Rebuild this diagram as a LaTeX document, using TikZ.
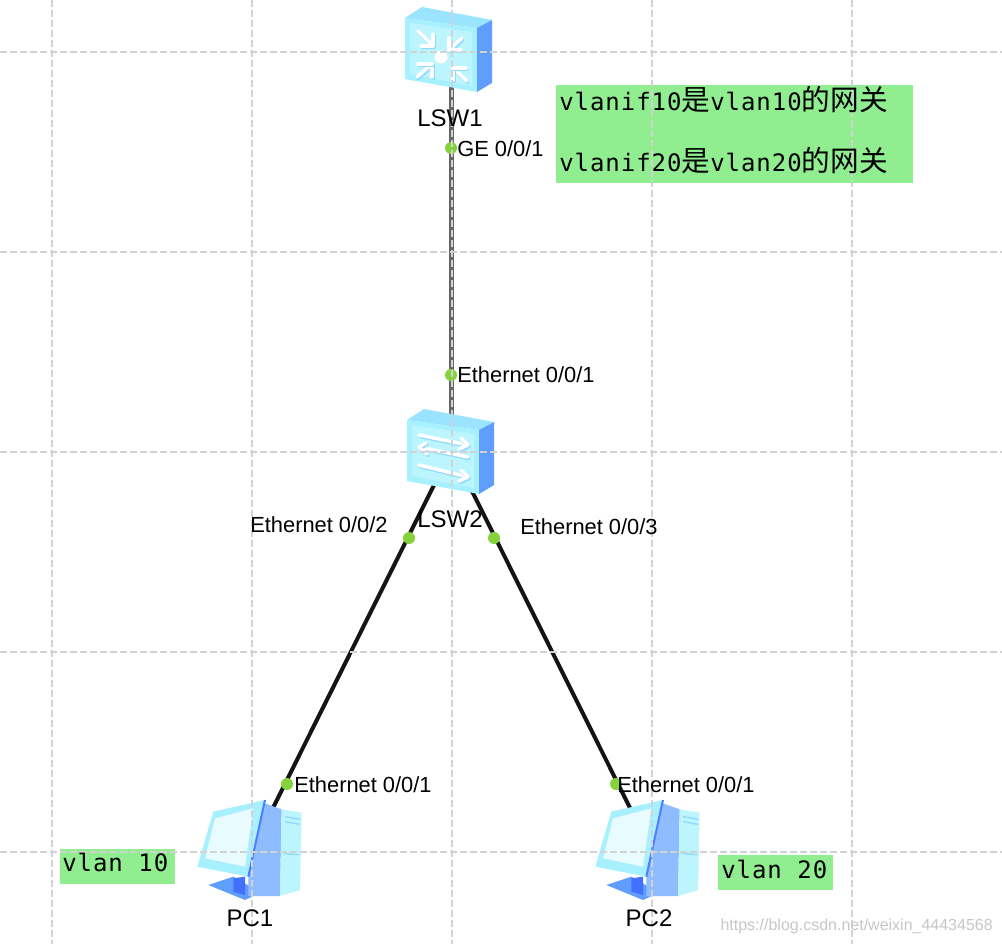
\documentclass[tikz,border=0pt]{standalone}
\usepackage{fontspec}
\setmainfont{Liberation Sans}
\newfontfamily\cjkf{Noto Sans CJK SC}
\newfontfamily\monof[LetterSpace=4]{DejaVu Sans Mono}
\definecolor{gridc}{HTML}{D2D2D2}
\definecolor{portc}{HTML}{84D23C}
\definecolor{noteg}{HTML}{90EE90}
\definecolor{iconfront}{HTML}{A6F0FF}
\definecolor{icontop}{HTML}{9BE4FF}
\definecolor{iconside}{HTML}{5F9EFF}
\definecolor{iconin}{HTML}{BDF5FF}
\definecolor{iconsh}{HTML}{8FD8FF}
\tikzset{
 gridline/.style={gridc,line width=1.15pt,dash pattern=on 5pt off 2.5pt},
 port/.style={circle,fill=portc,inner sep=0pt,minimum size=9pt},
 portlabel/.style={font=\fontsize{16.4}{16.4}\selectfont,inner sep=0pt,anchor=west,text=black},
 devlabel/.style={font=\fontsize{18}{18}\selectfont,inner sep=0pt,text=black},
 note/.style={fill=noteg,inner sep=0pt,anchor=north west},
 notetext/.style={font=\fontsize{18}{18}\selectfont\monof,inner sep=0pt,anchor=west,text=black},
 eth/.style={line width=3pt,draw=black!92},
 ge/.style={line width=4.2pt,draw=black!60},
 dev/.style={inner sep=0pt,minimum size=1pt},
 glyph/.style={white,line width=2.6pt,line cap=round,line join=round},
 glyphsh/.style={iconsh,line width=2.6pt,line cap=round,line join=round},
}
\newcommand{\cj}[1]{{\fontsize{21.5}{21.5}\selectfont\cjkf #1}}
\newcommand{\swbody}[2]{%
 \begin{scope}[shift={(#1,#2)}]
 \fill[icontop] (0,11) -- (17,0) -- (87,13) -- (72,21) -- cycle;
 \fill[iconfront] (0,11) -- (72,21) -- (72,85) -- (0,72) -- cycle;
 \fill[iconin] (5,16) -- (67,25) -- (67,79) -- (5,67) -- cycle;
 \fill[iconside] (72,21) -- (87,13) -- (87,76) -- (72,85) -- cycle;
 \end{scope}}
\newcommand{\pcicon}[2]{%
 \begin{scope}[shift={(#1,#2)},scale=1/3]
 \fill[iconside] (55,345) -- (130,320) -- (212,368) -- (165,390) -- cycle;
 \fill[iconside!70!blue] (130,325) -- (165,320) -- (165,375) -- (130,365) -- cycle;
 \fill[iconside!70!white] (225,100) -- (275,118) -- (270,378) -- (175,378) -- (175,320) -- cycle;
 \fill[iconin] (275,118) -- (335,128) -- (330,360) -- (270,378) -- cycle;
 \fill[iconfront] (22,290) -- (70,125) -- (225,90) -- (175,320) -- cycle;
 \fill[white!65!iconin] (45,265) -- (75,145) -- (190,115) -- (165,290) -- cycle;
 \draw[iconside!80!blue,line width=1.5pt] (225,90) -- (175,320);
 \draw[iconsh,line width=1pt] (285,140) -- (330,148) (285,155) -- (330,163) (280,250) -- (328,254);
 \end{scope}}
\newcommand{\zarrow}[4]{% tail, then corner
 \draw[glyphsh] (#1+1,#2+1.5) -- (#3+1,#4+1.5);
 \draw[glyph] (#1,#2) -- (#3,#4);}
\begin{document}
\begin{tikzpicture}[x=0.75pt,y=-0.75pt]
\useasboundingbox (0,0) rectangle (1002,944);
\fill[white] (0,0) rectangle (1002,944);
% note boxes
\node[note,minimum width=267.75pt,minimum height=73.5pt] (n1) at (556,85) {};
\node[note,minimum width=86.25pt,minimum height=26.25pt] (n2) at (60,849) {};
\node[note,minimum width=86.25pt,minimum height=26.25pt] (n3) at (718,855) {};
% devices
\node[dev] (lsw1) at (451.5,50) {};
\node[dev] (lsw2) at (451.5,450) {};
\node[dev] (pc1) at (252,850) {};
\node[dev] (pc2) at (651,850) {};
% connectors run behind the icons
\draw[ge] (lsw1) -- (lsw2);
\draw[eth] (lsw2) -- (pc1);
\draw[eth] (lsw2) -- (pc2);
% icons
\swbody{405}{7}
\swbody{407}{409}
\pcicon{190}{770}
\pcicon{588}{770}
% LSW1 glyph
\zarrow{418}{31}{433}{46}
\zarrow{433}{34}{433}{46}
\zarrow{421}{46}{433}{46}
\zarrow{462}{38}{449}{50}
\zarrow{449}{38}{449}{50}
\zarrow{461}{50}{449}{50}
\zarrow{417}{77}{432}{64}
\zarrow{432}{77}{432}{64}
\zarrow{418}{64}{432}{64}
\zarrow{467}{81}{453}{68}
\zarrow{453}{80}{453}{68}
\zarrow{466}{68}{453}{68}
\fill[white] (441,57) circle (6.5);
% LSW2 glyph
\zarrow{419}{435}{468}{445}
\zarrow{461}{438}{468}{445}
\zarrow{459}{449}{468}{445}
\zarrow{468}{457}{419}{447}
\zarrow{426}{443}{419}{447}
\zarrow{427}{454}{419}{447}
\zarrow{419}{465}{468}{477}
\zarrow{461}{470}{468}{477}
\zarrow{459}{481}{468}{477}
% ports
\node[port] (p1) at (451,148) {};
\node[port] (p2) at (451,375) {};
\node[port] (p3) at (409,538) {};
\node[port] (p4) at (494,538) {};
\node[port] (p5) at (287,784) {};
\node[port] (p6) at (616,784) {};
% grid, drawn over the icons and links
\foreach \v in {52,252,452,652,852} {
 \draw[gridline] (\v,0) -- (\v,944);
 \draw[gridline] (0,\v) -- (1002,\v);
}
% labels
\node[devlabel] (l1) at (450,118) {LSW1};
\node[devlabel] (l2) at (450,519) {LSW2};
\node[devlabel] (l3) at (250,918) {PC1};
\node[devlabel] (l4) at (649,918) {PC2};
\node[portlabel] (t1) at (457,149) {GE 0/0/1};
\node[portlabel] (t2) at (457,375) {Ethernet 0/0/1};
\node[portlabel] (t3) at (250,525) {Ethernet 0/0/2};
\node[portlabel] (t4) at (520,527) {Ethernet 0/0/3};
\node[portlabel] (t5) at (294,785) {Ethernet 0/0/1};
\node[portlabel] (t6) at (617,785) {Ethernet 0/0/1};
\node[notetext] (t7) at (559,100) {vlanif10\cj{是}vlan10\cj{的网关}};
\node[notetext] (t8) at (559,161) {vlanif20\cj{是}vlan20\cj{的网关}};
\node[notetext] (t9) at (62,862) {vlan 10};
\node[notetext] (t10) at (721,869) {vlan 20};
\node[font=\fontsize{12}{12}\selectfont,text=black!22,inner sep=0pt,anchor=east] (wm) at (993,926) {https://blog.csdn.net/weixin\_44434568};
\end{tikzpicture}
\end{document}
